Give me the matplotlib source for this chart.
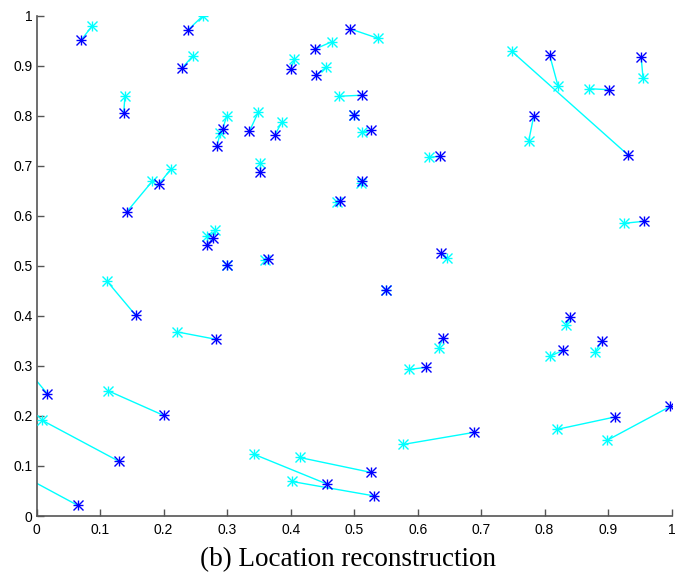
import matplotlib.pyplot as plt
from matplotlib.ticker import FuncFormatter

# true node locations (blue) and reconstructed locations (cyan)
true_x = [0.070, 0.137, 0.238, 0.229, 0.284, 0.293, 0.193, 0.142, 0.493, 0.438,
          0.400, 0.440, 0.513, 0.500, 0.527, 0.335, 0.375, 0.351, 0.636, 0.512,
          0.477, 0.931, 0.808, 0.902, 0.952, 0.783, 0.268, 0.278, 0.300, 0.156,
          0.283, 0.365, 0.550, 0.637, 0.640, 0.956, 0.840, 0.829, 0.890, 0.017,
          0.130, 0.200, 0.065, 0.457, 0.527, 0.532, 0.688, 0.613, 0.911, 0.998]
true_y = [0.951, 0.805, 0.971, 0.895, 0.740, 0.773, 0.664, 0.608, 0.974, 0.933,
          0.893, 0.881, 0.841, 0.801, 0.771, 0.769, 0.761, 0.688, 0.719, 0.669,
          0.630, 0.722, 0.921, 0.852, 0.917, 0.800, 0.541, 0.555, 0.501, 0.401,
          0.353, 0.514, 0.451, 0.525, 0.355, 0.589, 0.397, 0.331, 0.350, 0.244,
          0.109, 0.201, 0.021, 0.064, 0.087, 0.040, 0.167, 0.297, 0.198, 0.219]
est_x = [0.087, 0.139, 0.262, 0.246, 0.289, 0.299, 0.211, 0.182, 0.537, 0.465,
         0.406, 0.456, 0.476, 0.500, 0.513, 0.349, 0.386, 0.351, 0.618, 0.511,
         0.473, 0.748, 0.821, 0.870, 0.955, 0.775, 0.268, 0.281, 0.300, 0.111,
         0.221, 0.359, 0.550, 0.646, 0.633, 0.925, 0.834, 0.808, 0.880, -0.010,
         0.009, 0.113, -0.020, 0.343, 0.414, 0.402, 0.577, 0.587, 0.819, 0.898]
est_y = [0.979, 0.839, 1.000, 0.920, 0.765, 0.799, 0.693, 0.669, 0.955, 0.948,
         0.913, 0.897, 0.839, 0.801, 0.767, 0.807, 0.787, 0.705, 0.717, 0.665,
         0.627, 0.929, 0.860, 0.854, 0.876, 0.750, 0.559, 0.572, 0.501, 0.469,
         0.368, 0.512, 0.451, 0.515, 0.335, 0.585, 0.382, 0.319, 0.328, 0.285,
         0.191, 0.250, 0.079, 0.123, 0.117, 0.069, 0.143, 0.293, 0.173, 0.151]

ticks = [0, 0.1, 0.2, 0.3, 0.4, 0.5, 0.6, 0.7, 0.8, 0.9, 1]

BLUE = "#0000ff"
CYAN = "#00ffff"


def asterisk(ax, xs, ys, color, size=7):
    # matlab style '*' = plus + cross on top of each other
    for m in ["+", "x"]:
        ax.plot(xs, ys, linestyle="none", marker=m, color=color,
                markersize=size, markeredgewidth=1.0, zorder=3)


fig = plt.figure(figsize=(6.86, 5.72), dpi=100)
ax = fig.add_axes([0.0535, 0.0979, 0.9255, 0.8747])

for tx, ty, ex, ey in zip(true_x, true_y, est_x, est_y):
    ax.plot([tx, ex], [ty, ey], color=CYAN, linewidth=1.0, zorder=2)

asterisk(ax, est_x, est_y, CYAN)
asterisk(ax, true_x, true_y, BLUE)

ax.set_xlim(0, 1)
ax.set_ylim(0, 1)
ax.set_xticks(ticks)
ax.set_yticks(ticks)
fmt = FuncFormatter(lambda v, pos: f"{v:g}")
ax.xaxis.set_major_formatter(fmt)
ax.yaxis.set_major_formatter(fmt)

for side in ["top", "right"]:
    ax.spines[side].set_visible(False)
for side in ["left", "bottom"]:
    ax.spines[side].set_color("#555555")
    ax.spines[side].set_linewidth(1.2)

ax.tick_params(direction="in", length=5, width=1.0, color="#555555",
               labelsize=10)
ax.tick_params(axis="x", pad=5)
ax.tick_params(axis="y", pad=3)
for lab in ax.get_xticklabels() + ax.get_yticklabels():
    lab.set_family("Liberation Sans")

fig.text(0.508, 0.0095, "(b) Location reconstruction", ha="center",
         va="baseline", fontsize=19.5, family="Liberation Serif")

fig.savefig("out.png", dpi=100)
